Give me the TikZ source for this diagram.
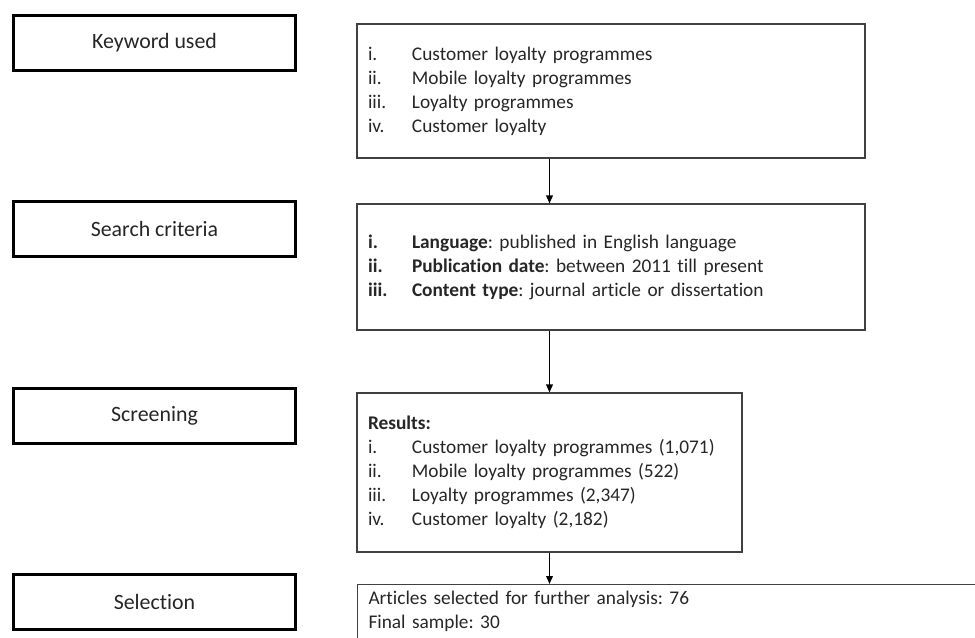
\documentclass[tikz,border=0pt]{standalone}
\usepackage{fontspec}
\setmainfont{Carlito}[Ligatures=NoCommon]
\usetikzlibrary{arrows.meta, positioning}
\definecolor{txt}{HTML}{262626}
\definecolor{edge}{HTML}{404040}
\newcommand{\listrow}[2]{\makebox[33pt][l]{#1}#2}
\frenchspacing

\begin{document}
\begin{tikzpicture}[
    x=0.75pt, y=-0.75pt,
    every node/.style={font=\fontsize{14.5}{18}\selectfont, text=txt},
    stage/.style={draw, line width=2.25pt, minimum width=211.5pt,
                  minimum height=41.25pt, inner sep=0pt,
                  font=\fontsize{16.4}{20}\selectfont},
    panel/.style={draw=edge, line width=0.8pt, inner xsep=8.25pt,
                  inner ysep=0pt, align=left},
    arr/.style={-{Triangle[length=6pt, width=5pt]}, line width=1.1pt}
]
    \useasboundingbox (0,0) rectangle (975,637);
    \clip (0,0) rectangle (975,637);

    % Stage labels on the left
    \node[stage] (kwlabel)   at (154.5, 43)    {Keyword used};
    \node[stage] (critlabel) at (154.5, 229)   {Search criteria};
    \node[stage] (scrlabel)  at (154.5, 415.5) {Screening};
    \node[stage] (sellabel)  at (154.5, 602)   {Selection};

    % Panels on the right
    \node[panel, minimum width=381pt, minimum height=100.5pt,
          text width=364.5pt] (kwlist) at (611, 91) {%
        \listrow{i.}{Customer loyalty programmes}\\
        \listrow{ii.}{Mobile loyalty programmes}\\
        \listrow{iii.}{Loyalty programmes}\\
        \listrow{iv.}{Customer loyalty}};

    \node[panel, minimum width=381pt, minimum height=94.5pt,
          text width=364.5pt] (critlist) at (611, 267) {%
        \listrow{\textbf{i.}}{\textbf{Language}: published in English language}\\
        \listrow{\textbf{ii.}}{\textbf{Publication date}: between 2011 till present}\\
        \listrow{\textbf{iii.}}{\textbf{Content type}: journal article or dissertation}};

    \node[panel, minimum width=288.75pt, minimum height=119.25pt,
          text width=272.25pt] (reslist) at (549.5, 472.5) {%
        \textbf{Results:}\\
        \listrow{i.}{Customer loyalty programmes (1,071)}\\
        \listrow{ii.}{Mobile loyalty programmes (522)}\\
        \listrow{iii.}{Loyalty programmes (2,347)}\\
        \listrow{iv.}{Customer loyalty (2,182)}};

    \node[panel, anchor=north west, text width=480pt, inner ysep=5pt]
          (sellist) at (357, 584) {%
        Articles selected for further analysis: 76\\
        Final sample: 30\\[6pt]};

    % Flow between panels
    \draw[arr] (kwlist.south -| reslist.north) -- (critlist.north -| reslist.north);
    \draw[arr] (critlist.south -| reslist.north) -- (reslist.north);
    \draw[arr] (reslist.south) -- (sellist.north -| reslist.south);
\end{tikzpicture}
\end{document}
